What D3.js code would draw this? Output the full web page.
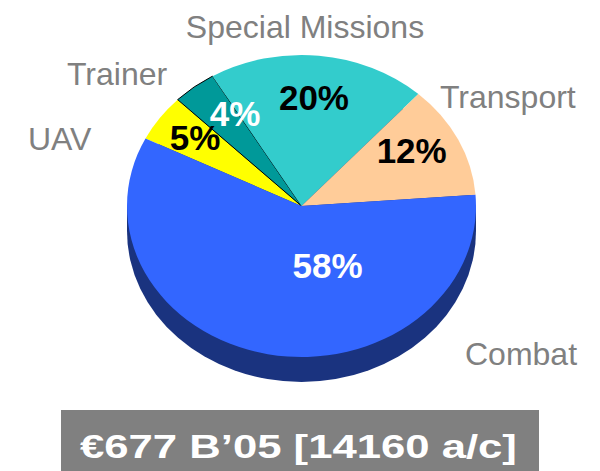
<!DOCTYPE html>
<html>
<head>
<meta charset="utf-8">
<script src="https://cdn.jsdelivr.net/npm/d3@7"></script>
<style>
  body { margin: 0; background: #fff; }
  svg { display: block; font-family: "Liberation Sans", Arial, sans-serif; }
</style>
</head>
<body>
<div id="chart"></div>
<script>
// data (clockwise from UAV)
const categories = ["UAV", "Trainer", "Special Missions", "Transport", "Combat"];
const shares = [5, 4, 20, 12, 58];
const title = "\u20AC677 B\u201905 [14160 a/c]";

// styling / layout, kept apart from the data
const topColors = ["#ffff00", "#009999", "#33cccc", "#ffcc99", "#3366ff"];
const sideColors = ["#999900", "#005c5c", "#1f7a7a", "#997a5c", "#1a337f"];
const pctColors = ["#000", "#fff", "#000", "#000", "#fff"];
// [radius fraction, angle shift in degrees] for the percent labels
const pctNudge = [[0.76, 1], [0.72, 6], [0.72, 0], [0.73, -4], [0.42, -32]];
// category label anchor points
const catPos = [[28, 150, "start"], [67, 85, "start"], [305, 38, "middle"], [440, 108, "start"], [465, 365, "start"]];

const width = 600, height = 471;
const cx = 301.5, cy = 206, rx = 174.5, ry = 151, depth = 25;
const k = ry / rx;

const svg = d3.select("#chart").append("svg")
  .attr("width", width).attr("height", height);

const pie = d3.pie().sort(null).value(d => d)
  .startAngle(-63.4 * Math.PI / 180)
  .endAngle((360 - 63.4) * Math.PI / 180);
const arcs = pie(shares);
const arc = d3.arc().innerRadius(0).outerRadius(rx);

// side of the disc: Combat covers the whole front, so one colour
const side = svg.append("g");
side.append("rect")
  .attr("x", cx - rx).attr("y", cy)
  .attr("width", 2 * rx).attr("height", depth)
  .attr("fill", sideColors[4]);
side.append("g")
  .attr("transform", "translate(" + cx + "," + (cy + depth) + ") scale(1," + k + ")")
  .append("path")
  .attr("d", arc({ startAngle: 0, endAngle: 2 * Math.PI }))
  .attr("fill", sideColors[4]);

// top face
const face = svg.append("g")
  .attr("transform", "translate(" + cx + "," + cy + ") scale(1," + k + ")");
face.selectAll("path").data(arcs).join("path")
  .attr("d", arc)
  .attr("fill", (d, i) => topColors[i])
  .attr("stroke", (d, i) => i === 1 ? "#000" : "none")
  .attr("stroke-width", 1)
  .attr("vector-effect", "non-scaling-stroke");

// percent labels
svg.selectAll("text.pct").data(arcs).join("text")
  .attr("class", "pct")
  .attr("x", (d, i) => {
    const a = (d.startAngle + d.endAngle) / 2 + pctNudge[i][1] * Math.PI / 180;
    return cx + Math.sin(a) * rx * pctNudge[i][0];
  })
  .attr("y", (d, i) => {
    const a = (d.startAngle + d.endAngle) / 2 + pctNudge[i][1] * Math.PI / 180;
    return cy - Math.cos(a) * ry * pctNudge[i][0];
  })
  .attr("dy", "0.36em")
  .attr("text-anchor", "middle")
  .attr("font-size", "35px")
  .attr("font-weight", "bold")
  .attr("fill", (d, i) => pctColors[i])
  .text(d => d.data + "%");

// category labels
svg.selectAll("text.cat").data(categories).join("text")
  .attr("class", "cat")
  .attr("x", (d, i) => catPos[i][0])
  .attr("y", (d, i) => catPos[i][1])
  .attr("text-anchor", (d, i) => catPos[i][2])
  .attr("font-size", "32px")
  .attr("fill", "#808080")
  .text(d => d);

// total box
svg.append("rect")
  .attr("x", 61).attr("y", 410)
  .attr("width", 478).attr("height", 61)
  .attr("fill", "#808080");
const t = svg.append("text")
  .attr("font-size", "34px")
  .attr("font-weight", "bold")
  .attr("fill", "#fff")
  .text(title);
// the slide stretched this text sideways
var sx = 437 / t.node().getComputedTextLength();
t.attr("transform", "translate(80,458) scale(" + sx + ",1)");
</script>
</body>
</html>
